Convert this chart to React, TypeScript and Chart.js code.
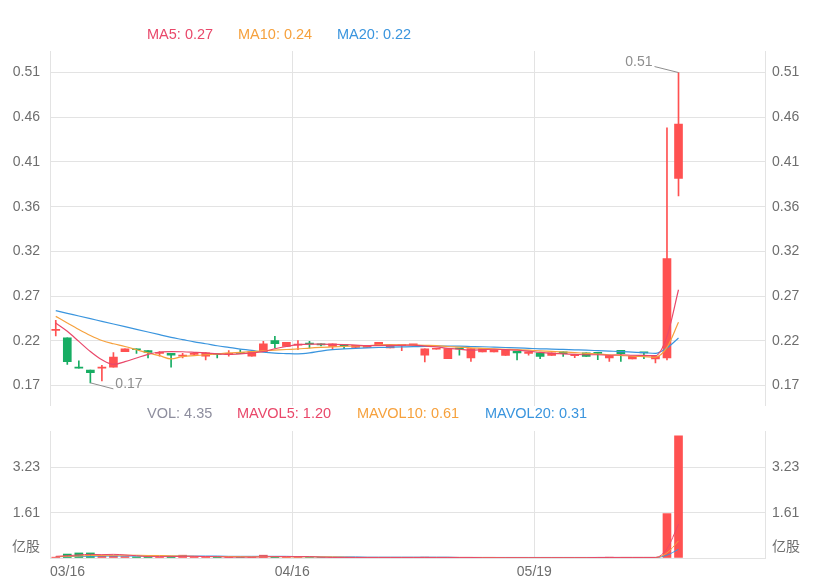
import React, { useEffect, useRef } from 'react';
import { Chart, registerables } from 'chart.js';

Chart.register(...registerables);

// ---------- data ----------
const dates = [
  '03/16', '03/17', '03/18', '03/19', '03/20', '03/23', '03/24', '03/25', '03/26', '03/27',
  '03/30', '03/31', '04/01', '04/02', '04/03', '04/06', '04/07', '04/08', '04/09', '04/14',
  '04/15', '04/16', '04/17', '04/20', '04/21', '04/22', '04/23', '04/24', '04/27', '04/28',
  '04/29', '05/04', '05/05', '05/06', '05/07', '05/08', '05/11', '05/12', '05/13', '05/14',
  '05/15', '05/18', '05/19', '05/20', '05/21', '05/22', '05/25', '05/26', '05/27', '05/28',
  '05/29', '06/01', '06/02', '06/03', '06/04',
];
const emptySlots = 7;
const xTickLabels = ['03/16', '04/16', '05/19'];

const opens = [
  0.230, 0.222, 0.190, 0.187, 0.189, 0.190, 0.207, 0.210, 0.208, 0.205,
  0.205, 0.202, 0.204, 0.202, 0.205, 0.204, 0.206, 0.202, 0.207, 0.219,
  0.2125, 0.214, 0.2155, 0.2148, 0.2126, 0.2137, 0.2116, 0.2116, 0.2137, 0.211,
  0.2134, 0.2143, 0.203, 0.2095, 0.1993, 0.2101, 0.200, 0.2066, 0.2066, 0.2029,
  0.2072, 0.205, 0.2055, 0.2029, 0.2066, 0.2025, 0.2055, 0.2055, 0.200, 0.2083,
  0.199, 0.2058, 0.199, 0.200, 0.395,
];
const closes = [
  0.231, 0.196, 0.189, 0.184, 0.190, 0.201, 0.210, 0.209, 0.206, 0.206,
  0.203, 0.203, 0.205, 0.2055, 0.204, 0.205, 0.205, 0.207, 0.2155, 0.2155,
  0.217, 0.2145, 0.215, 0.2142, 0.2155, 0.2134, 0.2137, 0.2137, 0.217, 0.2137,
  0.2137, 0.2145, 0.210, 0.2101, 0.2101, 0.2098, 0.2101, 0.2101, 0.209, 0.209,
  0.2055, 0.2066, 0.2018, 0.2055, 0.2047, 0.2029, 0.2018, 0.205, 0.2025, 0.2047,
  0.2018, 0.2055, 0.2018, 0.308, 0.454,
];
const lows = [
  0.224, 0.193, 0.189, 0.173, 0.175, 0.190, 0.207, 0.205, 0.200, 0.202,
  0.190, 0.200, 0.203, 0.198, 0.200, 0.202, 0.205, 0.202, 0.207, 0.211,
  0.2125, 0.209, 0.211, 0.213, 0.209, 0.210, 0.211, 0.2116, 0.2137, 0.211,
  0.208, 0.2143, 0.1957, 0.2095, 0.1993, 0.203, 0.1964, 0.2066, 0.2066, 0.2029,
  0.198, 0.203, 0.1993, 0.2029, 0.2018, 0.2004, 0.2018, 0.1982, 0.1964, 0.1964,
  0.199, 0.1993, 0.1946, 0.198, 0.376,
];
const highs = [
  0.241, 0.222, 0.197, 0.187, 0.192, 0.206, 0.210, 0.210, 0.208, 0.207,
  0.205, 0.205, 0.206, 0.206, 0.205, 0.208, 0.209, 0.207, 0.218, 0.2235,
  0.217, 0.219, 0.218, 0.2155, 0.2155, 0.214, 0.2137, 0.2137, 0.217, 0.2137,
  0.214, 0.2145, 0.210, 0.2101, 0.2101, 0.2101, 0.2101, 0.2101, 0.209, 0.209,
  0.2072, 0.2066, 0.2055, 0.2055, 0.2066, 0.2029, 0.2055, 0.2055, 0.2025, 0.2083,
  0.2018, 0.2058, 0.2018, 0.450, 0.510,
];

const ma5 = [
  0.238, 0.229, 0.218, 0.207, 0.198, 0.193, 0.196, 0.200, 0.204, 0.2065,
  0.207, 0.2068, 0.2062, 0.2055, 0.2045, 0.2040, 0.2045, 0.2055, 0.2070, 0.2100,
  0.2125, 0.2145, 0.2150, 0.2150, 0.2148, 0.2145, 0.2140, 0.2135, 0.2135, 0.2137,
  0.2138, 0.2140, 0.2130, 0.2120, 0.2105, 0.2095, 0.2085, 0.2090, 0.2095, 0.2090,
  0.2085, 0.2075, 0.2060, 0.2050, 0.2045, 0.2040, 0.2035, 0.2035, 0.2030, 0.2035,
  0.2030, 0.2028, 0.2025, 0.2235, 0.2741,
];
const ma10 = [
  0.2452, 0.238, 0.231, 0.2245, 0.219, 0.2155, 0.2125, 0.209, 0.2055, 0.2025,
  0.199, 0.2015, 0.2025, 0.2035, 0.2045, 0.2055, 0.2062, 0.207, 0.2078, 0.2085,
  0.2092, 0.2098, 0.2108, 0.2115, 0.2120, 0.2125, 0.2130, 0.2135, 0.2142, 0.2145,
  0.2143, 0.2140, 0.2137, 0.2135, 0.2125, 0.2118, 0.2110, 0.2105, 0.2100, 0.2095,
  0.2090, 0.2085, 0.2078, 0.2072, 0.2065, 0.2058, 0.2050, 0.2043, 0.2035, 0.2028,
  0.2020, 0.2015, 0.2010, 0.2115, 0.2388,
];
const ma20 = [
  0.2514, 0.2485, 0.2456, 0.2427, 0.2398, 0.2369, 0.2340, 0.2311, 0.2282, 0.2253,
  0.2224, 0.2200, 0.2175, 0.2155, 0.2133, 0.2115, 0.2097, 0.2082, 0.2063, 0.2052,
  0.2048, 0.2045, 0.2055, 0.2075, 0.2090, 0.2098, 0.2105, 0.2110, 0.2114, 0.2117,
  0.2120, 0.2123, 0.2125, 0.2130, 0.2130, 0.2128, 0.2125, 0.2122, 0.2118, 0.2114,
  0.2110, 0.2105, 0.2100, 0.2097, 0.2093, 0.2089, 0.2085, 0.2080, 0.2075, 0.2070,
  0.2064, 0.2058, 0.2050, 0.2110, 0.2217,
];

const volumes = [
  0.03, 0.14, 0.18, 0.18, 0.06, 0.08, 0.05, 0.04, 0.04, 0.03,
  0.06, 0.10, 0.04, 0.03, 0.03, 0.03, 0.02, 0.03, 0.10, 0.05,
  0.03, 0.03, 0.02, 0.02, 0.02, 0.02, 0.02, 0.02, 0.02, 0.02,
  0.02, 0.01, 0.03, 0.01, 0.02, 0.01, 0.02, 0.01, 0.01, 0.01,
  0.01, 0.01, 0.01, 0.01, 0.01, 0.02, 0.02, 0.02, 0.03, 0.02,
  0.02, 0.02, 0.02, 1.58, 4.35,
];
const mavol5 = [
  0.06, 0.08, 0.11, 0.13, 0.12, 0.13, 0.11, 0.08, 0.05, 0.05,
  0.05, 0.06, 0.06, 0.05, 0.05, 0.03, 0.03, 0.03, 0.04, 0.05,
  0.05, 0.05, 0.05, 0.03, 0.02, 0.02, 0.02, 0.02, 0.02, 0.02,
  0.02, 0.02, 0.02, 0.02, 0.02, 0.02, 0.02, 0.01, 0.01, 0.01,
  0.01, 0.01, 0.01, 0.01, 0.01, 0.01, 0.01, 0.02, 0.02, 0.02,
  0.02, 0.02, 0.02, 0.33, 1.20,
];
const mavol10 = [
  0.05, 0.06, 0.07, 0.09, 0.09, 0.10, 0.10, 0.10, 0.09, 0.09,
  0.08, 0.07, 0.06, 0.05, 0.05, 0.05, 0.05, 0.04, 0.05, 0.05,
  0.04, 0.04, 0.04, 0.04, 0.04, 0.03, 0.02, 0.02, 0.02, 0.02,
  0.02, 0.02, 0.02, 0.02, 0.02, 0.02, 0.02, 0.02, 0.02, 0.01,
  0.01, 0.01, 0.01, 0.01, 0.01, 0.01, 0.01, 0.01, 0.01, 0.02,
  0.02, 0.02, 0.02, 0.18, 0.61,
];
const mavol20 = [
  0.05, 0.05, 0.06, 0.06, 0.07, 0.07, 0.07, 0.07, 0.07, 0.07,
  0.07, 0.07, 0.07, 0.07, 0.07, 0.06, 0.06, 0.06, 0.06, 0.06,
  0.06, 0.05, 0.05, 0.04, 0.04, 0.04, 0.04, 0.03, 0.03, 0.03,
  0.03, 0.03, 0.03, 0.03, 0.03, 0.02, 0.02, 0.02, 0.02, 0.02,
  0.02, 0.02, 0.02, 0.02, 0.02, 0.02, 0.02, 0.02, 0.02, 0.02,
  0.02, 0.02, 0.02, 0.10, 0.31,
];

const priceTicks = [0.17, 0.21857, 0.26714, 0.31571, 0.36429, 0.41286, 0.46143, 0.51];
const priceMin = 0.1483;
const priceMax = 0.5334;
const volTicks = [1.613, 3.226];
const volUnitTick = 0.39;
const volUnitLabel = '亿股';
const volMax = 4.52;

// ---------- styles ----------
const W = 827;
const LEFT_W = 50;
const RIGHT_W = 62;
const PRICE_CANVAS_H = 424; // chart area bottom lands at ~406 (label overflow padding below)
const SLOT_W = (W - LEFT_W - RIGHT_W) / (dates.length + emptySlots);
const RED = '#ff5151';
const GREEN = '#17ad63';
const C5 = '#e9486a';
const C10 = '#f6a13d';
const C20 = '#3a95de';
const GRID = '#e3e3e3';
const TICK = '#6e6e6e';
const FONT = 'Arial, "Liberation Sans", "Noto Sans CJK SC", sans-serif';

Chart.defaults.font.family = FONT;
Chart.defaults.font.size = 14;

const labels = [...dates, ...Array(emptySlots).fill('')];
const candleColors = opens.map((o, i) => (closes[i] >= o ? RED : GREEN));
const gridIdx = xTickLabels.map((l) => dates.indexOf(l)).filter((i) => i > 0);

const xGridColor = (ctx: any) => (gridIdx.includes(ctx.index) ? GRID : 'rgba(0,0,0,0)');

const hiLoPlugin = {
  id: 'hilo',
  afterDatasetsDraw(chart: any) {
    const { ctx, chartArea } = chart;
    const x = chart.scales.x;
    const y = chart.scales.y;
    let hi = 0;
    let lo = 0;
    highs.forEach((h, i) => { if (h > highs[hi]) hi = i; });
    lows.forEach((l, i) => { if (l < lows[lo]) lo = i; });
    ctx.save();
    ctx.strokeStyle = '#8e8e8e';
    ctx.fillStyle = '#8e8e8e';
    ctx.lineWidth = 1;
    ctx.font = '14px ' + FONT;
    const mid = (chartArea.left + chartArea.right) / 2;
    const draw = (i: number, v: number, dy: number) => {
      const px = x.getPixelForValue(i);
      const py = y.getPixelForValue(v);
      const toLeft = px > mid;
      const ex = toLeft ? px - 24 : px + 23;
      const ey = py + dy;
      ctx.beginPath();
      ctx.moveTo(px, py);
      ctx.lineTo(ex, ey);
      ctx.stroke();
      ctx.textAlign = toLeft ? 'right' : 'left';
      ctx.textBaseline = 'middle';
      ctx.fillText(v.toFixed(2), toLeft ? ex - 2 : ex + 2, ey - 4.5);
    };
    draw(hi, highs[hi], -6);
    draw(lo, lows[lo], 6);
    ctx.restore();
  },
};

const lineDs = (label: string, data: number[], color: string) => ({
  type: 'line' as const,
  label,
  data,
  borderColor: color,
  backgroundColor: color,
  borderWidth: 1.2,
  pointRadius: 0,
  cubicInterpolationMode: 'monotone' as const,
  order: 0,
  yAxisID: 'y',
});

export default function App() {
  const priceRef = useRef<HTMLCanvasElement>(null);
  const volRef = useRef<HTMLCanvasElement>(null);

  useEffect(() => {
    const priceChart = new Chart(priceRef.current as HTMLCanvasElement, {
      type: 'bar',
      data: {
        labels,
        datasets: [
          lineDs('MA5', ma5, C5),
          lineDs('MA10', ma10, C10),
          lineDs('MA20', ma20, C20),
          {
            type: 'bar',
            label: 'body',
            data: opens.map((o, i) => [o, closes[i]]),
            backgroundColor: candleColors,
            barThickness: 8,
            minBarLength: 1,
            grouped: false,
            order: 1,
            yAxisID: 'y',
          } as any,
          {
            type: 'bar',
            label: 'wick',
            data: lows.map((l, i) => [l, highs[i]]),
            backgroundColor: candleColors,
            barThickness: 1,
            grouped: false,
            order: 2,
            yAxisID: 'y',
          } as any,
        ],
      },
      options: {
        animation: false,
        responsive: false,
        maintainAspectRatio: false,
        layout: { padding: { top: 51, left: 0, right: 0, bottom: 0 } },
        plugins: { legend: { display: false }, tooltip: { enabled: false } },
        scales: {
          x: {
            type: 'category',
            offset: true,
            grid: { offset: true, color: xGridColor, drawTicks: false },
            ticks: { display: false },
            border: { display: false },
            afterFit: (s: any) => { s.height = 0; },
          },
          y: {
            position: 'left',
            min: priceMin,
            max: priceMax,
            afterBuildTicks: (s: any) => { s.ticks = priceTicks.map((v) => ({ value: v })); },
            ticks: { callback: (v: any) => Number(v).toFixed(2), color: TICK, padding: 10 },
            grid: { color: GRID, drawTicks: false },
            border: { color: GRID },
            afterFit: (s: any) => { s.width = LEFT_W; },
          },
          yR: {
            position: 'right',
            min: priceMin,
            max: priceMax,
            afterBuildTicks: (s: any) => { s.ticks = priceTicks.map((v) => ({ value: v })); },
            ticks: { callback: (v: any) => Number(v).toFixed(2), color: TICK, padding: 7 },
            grid: { display: false, drawTicks: false },
            border: { color: GRID },
            afterFit: (s: any) => { s.width = RIGHT_W; },
          },
        },
      } as any,
      plugins: [hiLoPlugin],
    });

    const volTickValues = [0, volUnitTick, ...volTicks];
    const volLabel = (v: number) => (v === 0 ? '' : v === volUnitTick ? volUnitLabel : v.toFixed(2));

    const volChart = new Chart(volRef.current as HTMLCanvasElement, {
      type: 'bar',
      data: {
        labels,
        datasets: [
          { ...lineDs('MAVOL5', mavol5, C5), borderWidth: 1 },
          { ...lineDs('MAVOL10', mavol10, C10), borderWidth: 1 },
          { ...lineDs('MAVOL20', mavol20, C20), borderWidth: 1 },
          {
            type: 'bar',
            label: 'VOL',
            data: volumes,
            backgroundColor: candleColors,
            barThickness: 8,
            order: 1,
            yAxisID: 'y',
          } as any,
        ],
      },
      options: {
        animation: false,
        responsive: false,
        maintainAspectRatio: false,
        layout: { padding: { top: 25, left: 0, right: 0, bottom: 0 } },
        plugins: { legend: { display: false }, tooltip: { enabled: false } },
        scales: {
          x: {
            type: 'category',
            offset: true,
            grid: { offset: true, color: xGridColor, drawTicks: false },
            ticks: {
              autoSkip: false,
              maxRotation: 0,
              minRotation: 0,
              align: 'inner',
              labelOffset: -SLOT_W / 2,
              padding: 6,
              color: TICK,
              callback: (_v: any, i: number) => (xTickLabels.includes(labels[i]) ? labels[i] : ''),
            },
            border: { display: false },
            afterFit: (s: any) => { s.height = 30; },
          },
          y: {
            position: 'left',
            min: 0,
            max: volMax,
            afterBuildTicks: (s: any) => { s.ticks = volTickValues.map((v) => ({ value: v })); },
            ticks: { callback: (v: any) => volLabel(Number(v)), color: TICK, padding: 10 },
            grid: {
              color: (ctx: any) => (ctx.tick && ctx.tick.value === volUnitTick ? 'rgba(0,0,0,0)' : GRID),
              drawTicks: false,
            },
            border: { color: GRID },
            afterFit: (s: any) => { s.width = LEFT_W; },
          },
          yR: {
            position: 'right',
            min: 0,
            max: volMax,
            afterBuildTicks: (s: any) => { s.ticks = volTickValues.map((v) => ({ value: v })); },
            ticks: { callback: (v: any) => volLabel(Number(v)), color: TICK, padding: 7 },
            grid: { display: false, drawTicks: false },
            border: { color: GRID },
            afterFit: (s: any) => { s.width = RIGHT_W; },
          },
        },
      } as any,
    });

    return () => {
      priceChart.destroy();
      volChart.destroy();
    };
  }, []);

  const last = (a: number[]) => a[a.length - 1].toFixed(2);
  const legendStyle = (left: number, top: number, color: string): React.CSSProperties => ({
    position: 'absolute',
    left,
    top,
    color,
    fontFamily: FONT,
    fontSize: 14.5,
    lineHeight: '16px',
    whiteSpace: 'nowrap',
  });

  return (
    <div style={{ position: 'absolute', left: 0, top: 0, width: W, height: 588, background: '#fff', overflow: 'hidden' }}>
      <canvas ref={priceRef} width={W} height={PRICE_CANVAS_H} style={{ position: 'absolute', left: 0, top: 0 }} />
      <canvas ref={volRef} width={W} height={182} style={{ position: 'absolute', left: 0, top: 406 }} />
      <span style={legendStyle(147, 26, C5)}>MA5: {last(ma5)}</span>
      <span style={legendStyle(238, 26, C10)}>MA10: {last(ma10)}</span>
      <span style={legendStyle(337, 26, C20)}>MA20: {last(ma20)}</span>
      <span style={legendStyle(147, 405, '#8e8e9e')}>VOL: {last(volumes)}</span>
      <span style={legendStyle(237, 405, C5)}>MAVOL5: {last(mavol5)}</span>
      <span style={legendStyle(357, 405, C10)}>MAVOL10: {last(mavol10)}</span>
      <span style={legendStyle(485, 405, C20)}>MAVOL20: {last(mavol20)}</span>
    </div>
  );
}
